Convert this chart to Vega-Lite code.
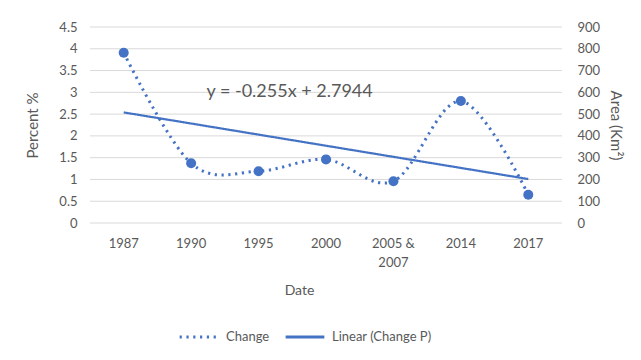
{
  "$schema": "https://vega.github.io/schema/vega-lite/v6.json",
  "autosize": {"type": "none"},
  "width": 472,
  "height": 196,
  "padding": {"left": 90, "top": 27, "right": 79, "bottom": 137},
  "background": "white",
  "config": {
    "view": {"stroke": null},
    "font": "Lato",
    "axis": {"labelColor": "#595959", "titleColor": "#595959", "labelFont": "Lato", "titleFont": "Lato", "labelFontSize": 13, "titleFontSize": 14, "titleFontWeight": "normal", "labelOverlap": false}
  },
  "datasets": {
    "main": [
      {"date": "1987", "pct": 3.91, "trend": 2.539, "area": 782},
      {"date": "1990", "pct": 1.37, "trend": 2.284, "area": 274},
      {"date": "1995", "pct": 1.19, "trend": 2.029, "area": 238},
      {"date": "2000", "pct": 1.46, "trend": 1.774, "area": 292},
      {"date": "2005 & 2007", "pct": 0.96, "trend": 1.519, "area": 192},
      {"date": "2014", "pct": 2.8, "trend": 1.264, "area": 560},
      {"date": "2017", "pct": 0.65, "trend": 1.009, "area": 130}
    ],
    "grid": [
      {"g": 0}, {"g": 0.5}, {"g": 1}, {"g": 1.5}, {"g": 2}, {"g": 2.5}, {"g": 3}, {"g": 3.5}, {"g": 4}, {"g": 4.5}
    ],
    "eq": [
      {"date": "1995", "y": 3.0, "label": "y = -0.255x + 2.7944"}
    ]
  },
  "data": {"name": "main"},
  "encoding": {
    "x": {
      "field": "date", "type": "nominal", "sort": null,
      "scale": {"type": "band", "paddingInner": 0, "paddingOuter": 0},
      "axis": {
        "title": "Date", "labelAngle": 0, "ticks": false, "domain": false,
        "labelPadding": 14, "labelLineHeight": 19, "titlePadding": 14, "titleX": 209,
        "labelExpr": "datum.label == '2005 & 2007' ? ['2005 &', '2007'] : datum.label"
      }
    }
  },
  "layer": [
    {
      "layer": [
        {
          "data": {"name": "grid"},
          "mark": {"type": "rule", "color": "#d9d9d9", "strokeWidth": 1},
          "encoding": {
            "x": null,
            "y": {"field": "g", "type": "quantitative",
              "scale": {"domain": [0, 4.5]},
              "axis": {"title": "Percent %", "format": "~g", "values": [0, 0.5, 1, 1.5, 2, 2.5, 3, 3.5, 4, 4.5], "domain": false, "ticks": false, "grid": false, "labelPadding": 13, "titlePadding": 18, "titleFontSize": 15, "labelOverlap": false}}
          }
        },
        {
          "mark": {"type": "line", "interpolate": "cardinal", "color": "#4472C4", "strokeWidth": 3},
          "encoding": {
            "y": {"field": "pct", "type": "quantitative",
              "axis": {"title": "Percent %", "format": "~g", "values": [0, 0.5, 1, 1.5, 2, 2.5, 3, 3.5, 4, 4.5], "domain": false, "ticks": false, "grid": false, "labelPadding": 13, "titlePadding": 18, "titleFontSize": 15, "labelOverlap": false}},
            "strokeDash": {"datum": "Change", "type": "nominal",
              "scale": {"domain": ["Change", "Linear (Change P)"], "range": [[2.2, 4.6], [1, 0]]},
              "legend": {"title": null, "orient": "none", "direction": "horizontal", "legendX": 88, "legendY": 289, "symbolType": "stroke", "symbolStrokeColor": "#4472C4", "symbolStrokeWidth": 3, "symbolSize": 1500, "labelFontSize": 13, "labelColor": "#595959", "labelFont": "Lato", "columnPadding": 9, "labelOffset": 6}}
          }
        },
        {
          "mark": {"type": "line", "color": "#4472C4", "strokeWidth": 2.2},
          "encoding": {
            "y": {"field": "trend", "type": "quantitative",
              "axis": {"title": "Percent %", "format": "~g", "values": [0, 0.5, 1, 1.5, 2, 2.5, 3, 3.5, 4, 4.5], "domain": false, "ticks": false, "grid": false, "labelPadding": 13, "titlePadding": 18, "titleFontSize": 15, "labelOverlap": false}},
            "strokeDash": {"datum": "Linear (Change P)", "type": "nominal"}
          }
        },
        {
          "mark": {"type": "point", "filled": true, "shape": "circle", "size": 100, "color": "#4472C4", "opacity": 1},
          "encoding": {"y": {"field": "pct", "type": "quantitative",
              "axis": {"title": "Percent %", "format": "~g", "values": [0, 0.5, 1, 1.5, 2, 2.5, 3, 3.5, 4, 4.5], "domain": false, "ticks": false, "grid": false, "labelPadding": 13, "titlePadding": 18, "titleFontSize": 15, "labelOverlap": false}}}
        },
        {
          "data": {"name": "eq"},
          "mark": {"type": "text", "align": "center", "baseline": "middle", "fontSize": 18, "font": "Lato", "color": "#595959", "dx": 31},
          "encoding": {
            "y": {"field": "y", "type": "quantitative",
              "axis": {"title": "Percent %", "format": "~g", "values": [0, 0.5, 1, 1.5, 2, 2.5, 3, 3.5, 4, 4.5], "domain": false, "ticks": false, "grid": false, "labelPadding": 13, "titlePadding": 18, "titleFontSize": 15, "labelOverlap": false}},
            "text": {"field": "label"}
          }
        }
      ]
    },
    {
      "mark": {"type": "point", "opacity": 0},
      "encoding": {
        "y": {"field": "area", "type": "quantitative",
          "scale": {"domain": [0, 900]},
          "axis": {"orient": "right", "title": "Area (Km²)", "values": [0, 100, 200, 300, 400, 500, 600, 700, 800, 900], "grid": false, "domain": false, "ticks": false, "labelPadding": 15, "titlePadding": 8, "titleFontSize": 15}}
      }
    }
  ],
  "resolve": {"scale": {"y": "independent"}}
}
